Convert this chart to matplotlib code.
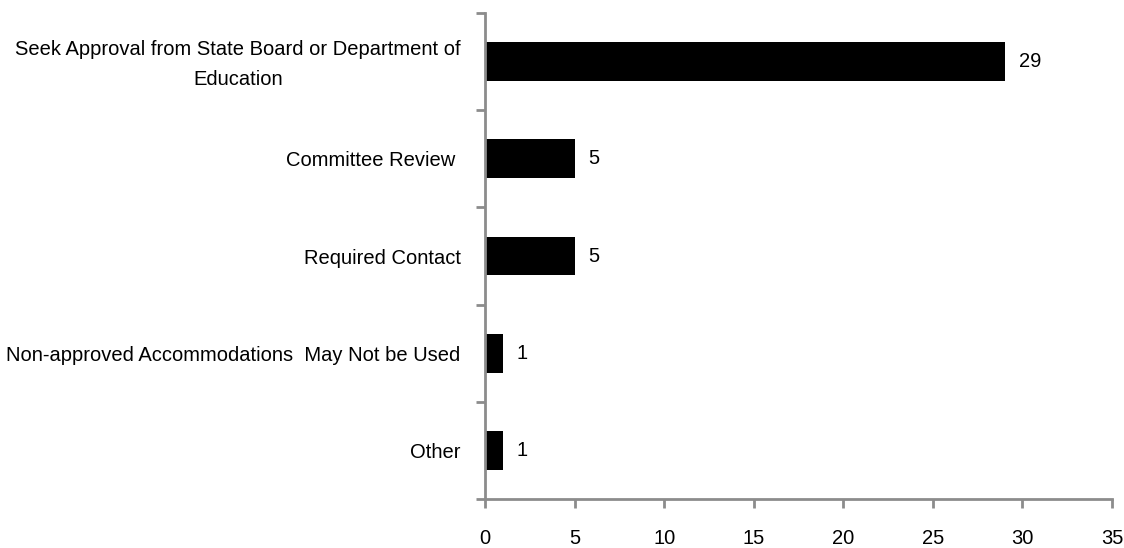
import matplotlib
matplotlib.use("Agg")
import matplotlib.pyplot as plt
import matplotlib.transforms as mtransforms
import numpy as np

categories = [
    "Seek Approval from State Board or Department of\nEducation",
    "Committee Review ",
    "Required Contact",
    "Non-approved Accommodations  May Not be Used",
    "Other",
]
values = [29, 5, 5, 1, 1]
xticks = [0, 5, 10, 15, 20, 25, 30, 35]

plt.rcParams['font.family'] = ['Liberation Sans', 'DejaVu Sans']
FS = 14.5
grey = '#8c8c8c'

fig = plt.figure(figsize=(11.24, 5.48), dpi=100)
ax = fig.add_axes([485/1124, 1 - 499/548, (1112-485)/1124, (499-13)/548])

y = np.arange(len(categories))
ax.barh(y, values, height=0.4, color='black')
ax.set_ylim(len(categories) - 0.5, -0.5)
ax.set_xlim(0, 35)

for yi, v in zip(y, values):
    ax.annotate(str(v), (v, yi), xytext=(14, 0), textcoords='offset pixels',
                va='center', ha='left', fontsize=FS, color='black')

# category boundary ticks on y axis
ax.set_yticks(np.arange(-0.5, len(categories), 1.0))
ax.set_yticklabels([])
ax.set_yticks(y, minor=True)
ax.set_yticklabels(categories, minor=True, fontsize=FS, ha='right',
                   multialignment='center', linespacing=1.75)
ax.tick_params(axis='y', which='minor', length=0, pad=17.5)
ax.tick_params(axis='y', which='major', length=6.5, width=2, color=grey, direction='out')

for lab in ax.get_yticklabels(minor=True):
    if '\n' in lab.get_text():
        lab.set_transform(lab.get_transform() +
                          mtransforms.ScaledTranslation(0, 0.05, fig.dpi_scale_trans))

ax.set_xticks(xticks)
ax.set_xticklabels([str(t) for t in xticks], fontsize=FS)
ax.tick_params(axis='x', length=6.5, width=2, color=grey, direction='out', pad=15)

for s in ['top', 'right']:
    ax.spines[s].set_visible(False)
for s in ['left', 'bottom']:
    ax.spines[s].set_color(grey)
    ax.spines[s].set_linewidth(2)

fig.savefig('out.png', dpi=100)
